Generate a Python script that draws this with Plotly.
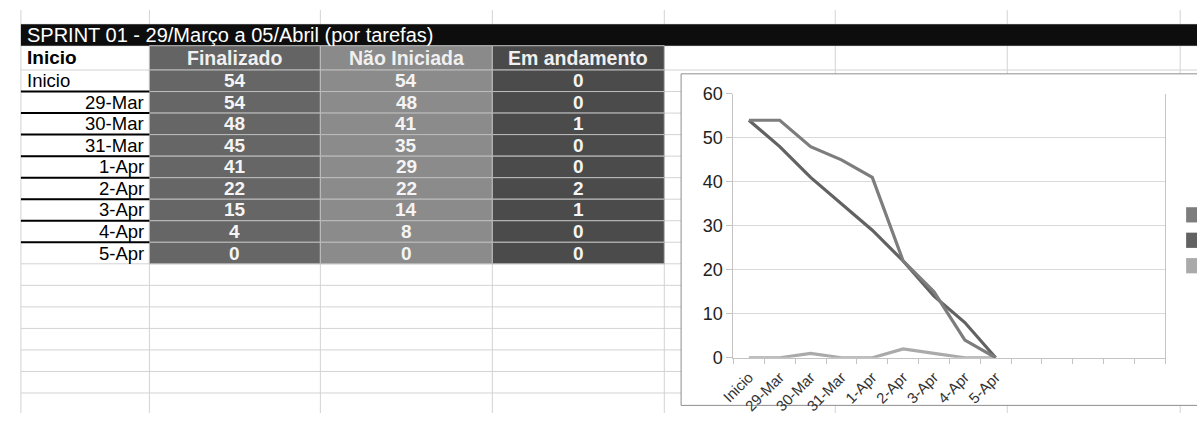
import plotly.graph_objects as go

# ---------------- data ----------------
categories = ["Inicio", "29-Mar", "30-Mar", "31-Mar", "1-Apr", "2-Apr", "3-Apr", "4-Apr", "5-Apr"]
finalizado = [54, 54, 48, 45, 41, 22, 15, 4, 0]
nao_iniciada = [54, 48, 41, 35, 29, 22, 14, 8, 0]
em_andamento = [0, 0, 1, 0, 0, 2, 1, 0, 0]
series_names = ["Finalizado", "Não Iniciada", "Em andamento"]
row_header = "Inicio"
title_text = "SPRINT 01 - 29/Março a 05/Abril (por tarefas)"
y_ticks = [0, 10, 20, 30, 40, 50, 60]
n_slots = 14  # category slots on the chart's x axis (9 used + 5 empty)

# ---------------- styling / geometry ----------------
W, H = 1197, 423
FONT = "Liberation Sans, Arial, sans-serif"
series_values = [finalizado, nao_iniciada, em_andamento]
line_colors = ["#7d7d7d", "#626262", "#aaaaaa"]
cell_colors = ["#666666", "#8b8b8b", "#4b4b4b"]
head_colors = ["#646464", "#8a8a8a", "#4a4a4a"]
grid_c = "#d3d3d3"

col_edges = [7, 137, 310, 484, 658, 831, 1005, 1180]
title_top, title_bot = 15, 37.5
header_bot = 63
row_h = 22.6
chart_box = (675, 67, 1205, 415)
plot_l, plot_r, plot_t, plot_b = 728, 1165, 88, 365


def px(x):
    return x / W


def py(y):
    return 1 - y / H


shapes = []
annotations = []


def label(text, x, y, anchor, size, color):
    annotations.append(dict(text=text, x=px(x), y=py(y), xref="paper", yref="paper",
                            xanchor=anchor, yanchor="middle", showarrow=False,
                            font=dict(family=FONT, size=size, color=color)))


# spreadsheet grid
for xe in col_edges:
    shapes.append(dict(type="line", xref="paper", yref="paper", x0=px(xe), x1=px(xe),
                       y0=py(0), y1=py(H), line=dict(color=grid_c, width=1), layer="below"))
hlines = [title_top, title_bot]
yy = header_bot
while yy < H:
    hlines.append(yy)
    yy += row_h
for yv in hlines:
    shapes.append(dict(type="line", xref="paper", yref="paper", x0=px(col_edges[0]), x1=px(W),
                       y0=py(yv), y1=py(yv), line=dict(color=grid_c, width=1), layer="below"))

# title bar
shapes.append(dict(type="rect", xref="paper", yref="paper", x0=px(col_edges[0]), x1=px(W + 2),
                   y0=py(title_bot), y1=py(title_top), fillcolor="#0d0d0d",
                   line=dict(width=0), layer="below"))
label(title_text, col_edges[0] + 4, (title_top + title_bot) / 2 + 0.5, "left", 20, "white")

# header row
label("<b>%s</b>" % row_header, col_edges[0] + 4, (title_bot + header_bot) / 2, "left", 19, "black")
for j, name in enumerate(series_names):
    x0, x1 = col_edges[j + 1], col_edges[j + 2]
    shapes.append(dict(type="rect", xref="paper", yref="paper", x0=px(x0), x1=px(x1),
                       y0=py(header_bot), y1=py(title_bot), fillcolor=head_colors[j],
                       line=dict(color="#bdbdbd", width=1), layer="below"))
    label("<b>%s</b>" % name, (x0 + x1) / 2, (title_bot + header_bot) / 2, "center", 19.5, "#f0f0f0")

# data rows
for i, cat in enumerate(categories):
    top = header_bot + i * row_h
    bot = top + row_h
    mid = (top + bot) / 2
    if i == 0:
        label(cat, col_edges[0] + 4, mid, "left", 18.5, "black")
    else:
        label(cat, col_edges[1] - 3, mid, "right", 18.5, "black")
    if i < len(categories) - 1:
        shapes.append(dict(type="line", xref="paper", yref="paper", x0=px(col_edges[0]),
                           x1=px(col_edges[1]), y0=py(bot), y1=py(bot),
                           line=dict(color="black", width=2)))
    for j, vals in enumerate(series_values):
        x0, x1 = col_edges[j + 1], col_edges[j + 2]
        shapes.append(dict(type="rect", xref="paper", yref="paper", x0=px(x0), x1=px(x1),
                           y0=py(bot), y1=py(top), fillcolor=cell_colors[j],
                           line=dict(color="#bdbdbd", width=1), layer="below"))
        label("<b>%d</b>" % vals[i], (x0 + x1) / 2, mid, "center", 19, "#f4f4f4")

# chart box
cx0, cy0, cx1, cy1 = chart_box
shapes.append(dict(type="rect", xref="paper", yref="paper", x0=px(cx0), x1=px(cx1),
                   y0=py(cy1), y1=py(cy0), fillcolor="white",
                   line=dict(color="#8e8e8e", width=1), layer="below"))

# legend swatches (legend text falls outside the visible window)
for k, c in enumerate(line_colors):
    t = 207 + k * 26.7
    shapes.append(dict(type="rect", xref="paper", yref="paper", x0=px(1186), x1=px(1203),
                       y0=py(t + 16), y1=py(t), fillcolor=c, line=dict(width=0)))

fig = go.Figure()
xs = list(range(len(categories)))
for name, vals, c in [(series_names[2], em_andamento, line_colors[2]),
                      (series_names[1], nao_iniciada, line_colors[1]),
                      (series_names[0], finalizado, line_colors[0])]:
    fig.add_trace(go.Scatter(x=xs, y=vals, name=name, mode="lines",
                             line=dict(color=c, width=3.2), showlegend=False))

fig.update_layout(
    width=W, height=H, margin=dict(l=0, r=0, t=0, b=0),
    paper_bgcolor="white", plot_bgcolor="rgba(0,0,0,0)",
    shapes=shapes, annotations=annotations, showlegend=False,
    xaxis=dict(domain=[px(plot_l), px(plot_r)], range=[-0.5, n_slots - 0.5],
               tickvals=xs, ticktext=categories, tickangle=-45,
               ticks="outside", ticklen=4, tickcolor="rgba(0,0,0,0)",
               showline=True, linecolor="#c4c4c4", linewidth=1,
               showgrid=False, zeroline=False,
               tickfont=dict(family=FONT, size=15, color="#333333"),
               minor=dict(tickvals=[k - 0.5 for k in range(n_slots + 1)], ticks="outside",
                          ticklen=5, tickcolor="#c4c4c4", showgrid=False)),
    yaxis=dict(domain=[py(plot_b), py(plot_t)], range=[0, 60], tickvals=y_ticks,
               showgrid=True, gridcolor="#d9d9d9", gridwidth=1,
               showline=True, linecolor="#c4c4c4", mirror=True,
               ticks="outside", ticklen=6, tickcolor="#c4c4c4", zeroline=False,
               tickfont=dict(family=FONT, size=18, color="#222222")),
)

fig.write_html("out.html")
